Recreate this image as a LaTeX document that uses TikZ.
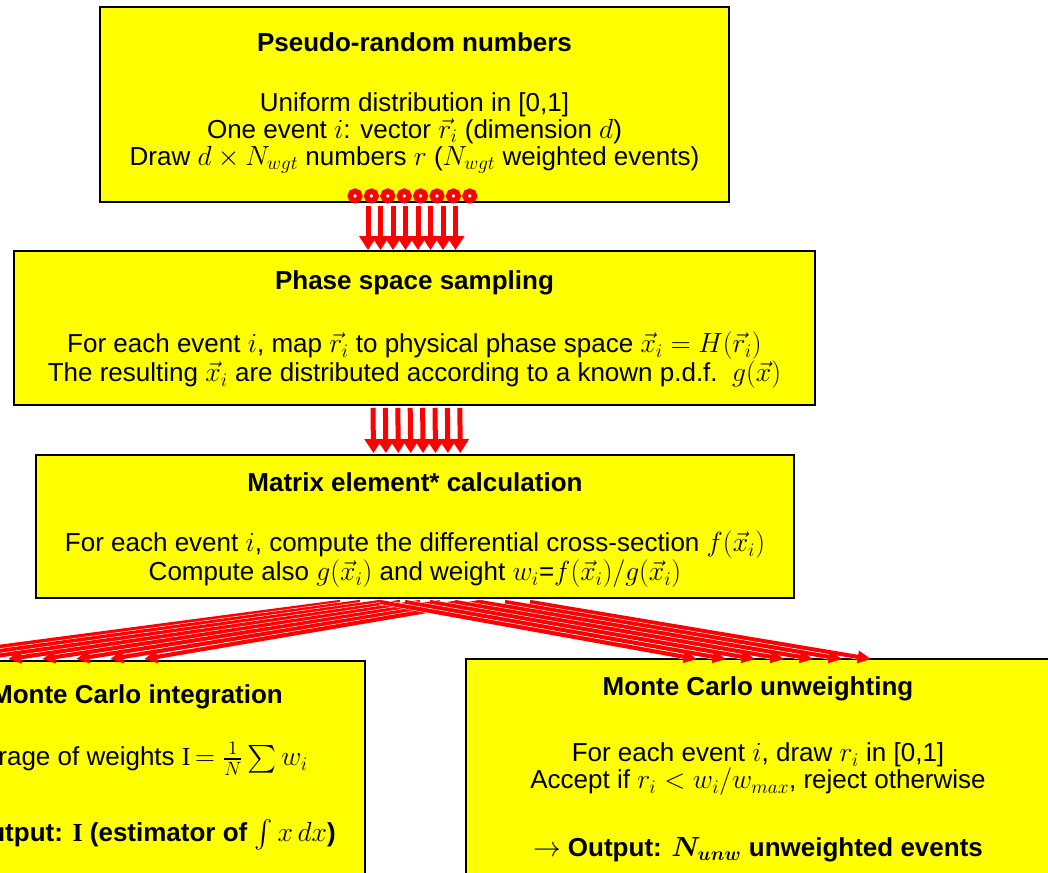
\documentclass[tikz,border=0pt]{standalone}
\usepackage{amsmath,bm}
\usepackage{fontspec}
\setmainfont{Liberation Sans}
\newfontfamily\serifroman{Liberation Serif}
\usetikzlibrary{arrows.meta,calc,shadows}

\definecolor{boxyellow}{RGB}{255,255,0}
\definecolor{flowred}{RGB}{255,0,0}

\begin{document}
\begin{tikzpicture}[x=0.75pt,y=-0.75pt,
  stage/.style={draw=black, line width=1.4pt, fill=boxyellow, inner sep=0pt,
    drop shadow={shadow xshift=1.1pt, shadow yshift=-1.1pt, fill=black, opacity=0.55}},
  headline/.style={font=\fontsize{19.5}{20.25}\selectfont\bfseries, inner sep=0pt},
  bodytext/.style={font=\fontsize{19.5}{20.25}\selectfont, align=center, inner sep=0pt},
  ring/.style={circle, draw=flowred, fill=white, line width=4.1pt, minimum size=7.1pt, inner sep=0pt},
  blockarrow/.style={draw=flowred, line width=3.75pt, -{Triangle[length=10.5pt,width=12.75pt]}},
  fanarrow/.style={draw=flowred, line width=3.1pt, -{Triangle[length=10pt,width=9pt]},
    preaction={draw=white, line width=3.9pt, shorten >=8pt, -}}
]
\useasboundingbox (0,0) rectangle (1048,872);
\clip (0,0) rectangle (1048,872);

% stage boxes
\node[stage, minimum width=471.75pt, minimum height=146.25pt] (b1) at (414.5,104.5) {};
\node[stage, minimum width=600.75pt, minimum height=115.5pt] (b2) at (414.5,328) {};
\node[stage, minimum width=568.5pt, minimum height=107.25pt] (b3) at (415,526.5) {};
\node[stage, minimum width=352.5pt, minimum height=179.25pt] (b4) at (130,780.5) {};
\node[stage, minimum width=445.5pt, minimum height=180.75pt] (b5) at (763,779.5) {};

% texts: pseudo-random numbers
\node[headline] (h1) at (414.5,42) {Pseudo-random numbers};
\node[bodytext] (x1) at (414.5,133) {Uniform distribution in [0,1]\\
  One event $i$: vector $\vec{r}_i$ (dimension $d$)\\
  Draw $d\times N_{wgt}$ numbers $r$ ($N_{wgt}$ weighted events)};

% texts: phase space sampling
\node[headline] (h2) at (414.5,283) {Phase space sampling};
\node[bodytext] (x2) at (414.5,360.5) {For each event $i$, map $\vec{r}_i$ to physical phase space $\vec{x}_i=H(\vec{r}_i)$\\
  The resulting $\vec{x}_i$ are distributed according to a known p.d.f.\ \ $g(\vec{x})$};

% texts: matrix element
\node[headline] (h3) at (415,482) {Matrix element* calculation};
\node[bodytext] (x3) at (415,559.5) {For each event $i$, compute the differential cross-section $f(\vec{x}_i)$\\
  Compute also $g(\vec{x}_i)$ and weight $w_i$=$f(\vec{x}_i)/g(\vec{x}_i)$};

% texts: integration
\node[headline] (h4) at (137,697) {Monte Carlo integration};
\node[bodytext] (x4) at (131,759) {Average of weights {\serifroman I}$\,=\frac{1}{N}\sum w_i$};
\node[bodytext] (y4) at (135,835) {$\rightarrow$ \textbf{Output: {\serifroman I} (estimator of $\int x\,dx$)}};

% texts: unweighting
\node[headline] (h5) at (758,689) {Monte Carlo unweighting};
\node[bodytext] (x5) at (758,769.5) {For each event $i$, draw $r_i$ in [0,1]\\
  Accept if $r_i<w_i/w_{max}$, reject otherwise};
\node[bodytext] (y5) at (758,850) {$\rightarrow$ \textbf{Output: $\bm{N_{unw}}$ unweighted events}};

% random number outlets
\foreach \k in {0,...,7}
  \node[ring] (c\k) at ($(b1.south)+(-59.5+16.4*\k,-7)$) {};

% block arrows between stages
\foreach \k in {0,...,7}
  \draw[blockarrow] ($(b1.south)+(-46.5+12.5*\k,3)$) -- ($(b2.north)+(-46.5+12.5*\k,0)$);
\foreach \k in {0,...,7}
  \draw[blockarrow] ($(b2.south)+(-41.5+12.4*\k,2)$) -- ($(b3.north)+(-41.5+12.4*\k,-1)$);

% fan of arrows towards the two outputs
\foreach \k in {7,6,...,0}
  \draw[fanarrow] ($(b3.south)+(65-20*\k,3)$) -- ($(b4.north)+(14-34*\k,-1)$);
\foreach \k in {6,5,...,0}
  \draw[fanarrow] ($(b3.south)+(-35+25*\k,3)$) -- ($(b5.north)+(-66+29*\k,1)$);
\end{tikzpicture}
\end{document}
